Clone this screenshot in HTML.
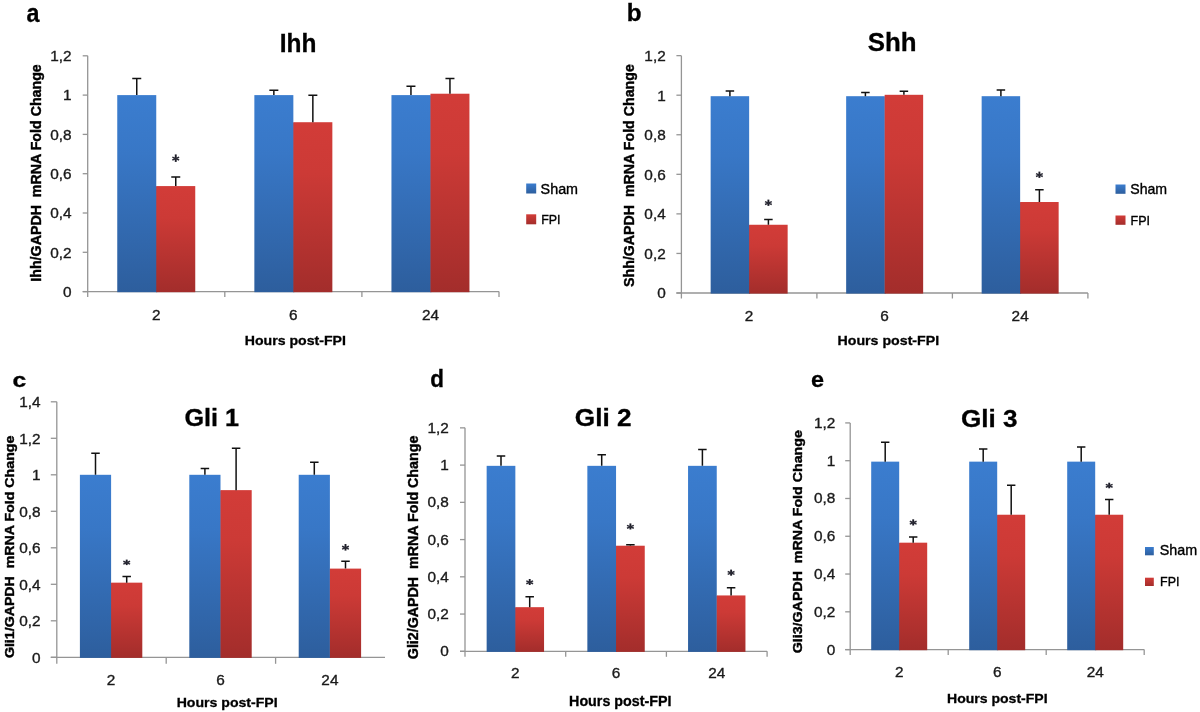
<!DOCTYPE html>
<html><head><meta charset="utf-8"><style>
html,body{margin:0;padding:0;background:#fff;}
svg{display:block;filter:blur(0.45px);}
text{font-family:"Liberation Sans",sans-serif;white-space:pre;}
</style></head><body>
<svg width="1200" height="712" viewBox="0 0 1200 712">
<defs>
<linearGradient id="gb" x1="0" y1="0" x2="0" y2="1"><stop offset="0" stop-color="#3b7dcf"/><stop offset="1" stop-color="#2d5e9d"/></linearGradient>
<linearGradient id="gr" x1="0" y1="0" x2="0" y2="1"><stop offset="0" stop-color="#d23c38"/><stop offset="1" stop-color="#a32d2b"/></linearGradient>
<linearGradient id="g0" gradientUnits="userSpaceOnUse" x1="0" y1="95.10" x2="0" y2="292.20"><stop offset="0" stop-color="#3b7dcf"/><stop offset="0.3" stop-color="#3877c6"/><stop offset="1" stop-color="#2d5e9d"/></linearGradient>
<linearGradient id="g1" gradientUnits="userSpaceOnUse" x1="0" y1="186.08" x2="0" y2="292.20"><stop offset="0" stop-color="#d23c38"/><stop offset="0.3" stop-color="#cc3a36"/><stop offset="1" stop-color="#a32d2b"/></linearGradient>
<linearGradient id="g2" gradientUnits="userSpaceOnUse" x1="0" y1="95.10" x2="0" y2="292.20"><stop offset="0" stop-color="#3b7dcf"/><stop offset="0.3" stop-color="#3877c6"/><stop offset="1" stop-color="#2d5e9d"/></linearGradient>
<linearGradient id="g3" gradientUnits="userSpaceOnUse" x1="0" y1="122.22" x2="0" y2="292.20"><stop offset="0" stop-color="#d23c38"/><stop offset="0.3" stop-color="#cc3a36"/><stop offset="1" stop-color="#a32d2b"/></linearGradient>
<linearGradient id="g4" gradientUnits="userSpaceOnUse" x1="0" y1="95.10" x2="0" y2="292.20"><stop offset="0" stop-color="#3b7dcf"/><stop offset="0.3" stop-color="#3877c6"/><stop offset="1" stop-color="#2d5e9d"/></linearGradient>
<linearGradient id="g5" gradientUnits="userSpaceOnUse" x1="0" y1="93.72" x2="0" y2="292.20"><stop offset="0" stop-color="#d23c38"/><stop offset="0.3" stop-color="#cc3a36"/><stop offset="1" stop-color="#a32d2b"/></linearGradient>
<linearGradient id="g6" gradientUnits="userSpaceOnUse" x1="0" y1="96.19" x2="0" y2="293.60"><stop offset="0" stop-color="#3b7dcf"/><stop offset="0.3" stop-color="#3877c6"/><stop offset="1" stop-color="#2d5e9d"/></linearGradient>
<linearGradient id="g7" gradientUnits="userSpaceOnUse" x1="0" y1="224.76" x2="0" y2="293.60"><stop offset="0" stop-color="#d23c38"/><stop offset="0.3" stop-color="#cc3a36"/><stop offset="1" stop-color="#a32d2b"/></linearGradient>
<linearGradient id="g8" gradientUnits="userSpaceOnUse" x1="0" y1="96.19" x2="0" y2="293.60"><stop offset="0" stop-color="#3b7dcf"/><stop offset="0.3" stop-color="#3877c6"/><stop offset="1" stop-color="#2d5e9d"/></linearGradient>
<linearGradient id="g9" gradientUnits="userSpaceOnUse" x1="0" y1="94.80" x2="0" y2="293.60"><stop offset="0" stop-color="#d23c38"/><stop offset="0.3" stop-color="#cc3a36"/><stop offset="1" stop-color="#a32d2b"/></linearGradient>
<linearGradient id="g10" gradientUnits="userSpaceOnUse" x1="0" y1="96.19" x2="0" y2="293.60"><stop offset="0" stop-color="#3b7dcf"/><stop offset="0.3" stop-color="#3877c6"/><stop offset="1" stop-color="#2d5e9d"/></linearGradient>
<linearGradient id="g11" gradientUnits="userSpaceOnUse" x1="0" y1="202.01" x2="0" y2="293.60"><stop offset="0" stop-color="#d23c38"/><stop offset="0.3" stop-color="#cc3a36"/><stop offset="1" stop-color="#a32d2b"/></linearGradient>
<linearGradient id="g12" gradientUnits="userSpaceOnUse" x1="0" y1="474.80" x2="0" y2="657.90"><stop offset="0" stop-color="#3b7dcf"/><stop offset="0.3" stop-color="#3877c6"/><stop offset="1" stop-color="#2d5e9d"/></linearGradient>
<linearGradient id="g13" gradientUnits="userSpaceOnUse" x1="0" y1="582.66" x2="0" y2="657.90"><stop offset="0" stop-color="#d23c38"/><stop offset="0.3" stop-color="#cc3a36"/><stop offset="1" stop-color="#a32d2b"/></linearGradient>
<linearGradient id="g14" gradientUnits="userSpaceOnUse" x1="0" y1="474.80" x2="0" y2="657.90"><stop offset="0" stop-color="#3b7dcf"/><stop offset="0.3" stop-color="#3877c6"/><stop offset="1" stop-color="#2d5e9d"/></linearGradient>
<linearGradient id="g15" gradientUnits="userSpaceOnUse" x1="0" y1="490.13" x2="0" y2="657.90"><stop offset="0" stop-color="#d23c38"/><stop offset="0.3" stop-color="#cc3a36"/><stop offset="1" stop-color="#a32d2b"/></linearGradient>
<linearGradient id="g16" gradientUnits="userSpaceOnUse" x1="0" y1="474.80" x2="0" y2="657.90"><stop offset="0" stop-color="#3b7dcf"/><stop offset="0.3" stop-color="#3877c6"/><stop offset="1" stop-color="#2d5e9d"/></linearGradient>
<linearGradient id="g17" gradientUnits="userSpaceOnUse" x1="0" y1="568.61" x2="0" y2="657.90"><stop offset="0" stop-color="#d23c38"/><stop offset="0.3" stop-color="#cc3a36"/><stop offset="1" stop-color="#a32d2b"/></linearGradient>
<linearGradient id="g18" gradientUnits="userSpaceOnUse" x1="0" y1="465.84" x2="0" y2="651.90"><stop offset="0" stop-color="#3b7dcf"/><stop offset="0.3" stop-color="#3877c6"/><stop offset="1" stop-color="#2d5e9d"/></linearGradient>
<linearGradient id="g19" gradientUnits="userSpaceOnUse" x1="0" y1="607.17" x2="0" y2="651.90"><stop offset="0" stop-color="#d23c38"/><stop offset="0.3" stop-color="#cc3a36"/><stop offset="1" stop-color="#a32d2b"/></linearGradient>
<linearGradient id="g20" gradientUnits="userSpaceOnUse" x1="0" y1="465.84" x2="0" y2="651.90"><stop offset="0" stop-color="#3b7dcf"/><stop offset="0.3" stop-color="#3877c6"/><stop offset="1" stop-color="#2d5e9d"/></linearGradient>
<linearGradient id="g21" gradientUnits="userSpaceOnUse" x1="0" y1="545.72" x2="0" y2="651.90"><stop offset="0" stop-color="#d23c38"/><stop offset="0.3" stop-color="#cc3a36"/><stop offset="1" stop-color="#a32d2b"/></linearGradient>
<linearGradient id="g22" gradientUnits="userSpaceOnUse" x1="0" y1="465.84" x2="0" y2="651.90"><stop offset="0" stop-color="#3b7dcf"/><stop offset="0.3" stop-color="#3877c6"/><stop offset="1" stop-color="#2d5e9d"/></linearGradient>
<linearGradient id="g23" gradientUnits="userSpaceOnUse" x1="0" y1="595.44" x2="0" y2="651.90"><stop offset="0" stop-color="#d23c38"/><stop offset="0.3" stop-color="#cc3a36"/><stop offset="1" stop-color="#a32d2b"/></linearGradient>
<linearGradient id="g24" gradientUnits="userSpaceOnUse" x1="0" y1="461.64" x2="0" y2="650.20"><stop offset="0" stop-color="#3b7dcf"/><stop offset="0.3" stop-color="#3877c6"/><stop offset="1" stop-color="#2d5e9d"/></linearGradient>
<linearGradient id="g25" gradientUnits="userSpaceOnUse" x1="0" y1="542.68" x2="0" y2="650.20"><stop offset="0" stop-color="#d23c38"/><stop offset="0.3" stop-color="#cc3a36"/><stop offset="1" stop-color="#a32d2b"/></linearGradient>
<linearGradient id="g26" gradientUnits="userSpaceOnUse" x1="0" y1="461.64" x2="0" y2="650.20"><stop offset="0" stop-color="#3b7dcf"/><stop offset="0.3" stop-color="#3877c6"/><stop offset="1" stop-color="#2d5e9d"/></linearGradient>
<linearGradient id="g27" gradientUnits="userSpaceOnUse" x1="0" y1="514.73" x2="0" y2="650.20"><stop offset="0" stop-color="#d23c38"/><stop offset="0.3" stop-color="#cc3a36"/><stop offset="1" stop-color="#a32d2b"/></linearGradient>
<linearGradient id="g28" gradientUnits="userSpaceOnUse" x1="0" y1="461.64" x2="0" y2="650.20"><stop offset="0" stop-color="#3b7dcf"/><stop offset="0.3" stop-color="#3877c6"/><stop offset="1" stop-color="#2d5e9d"/></linearGradient>
<linearGradient id="g29" gradientUnits="userSpaceOnUse" x1="0" y1="514.73" x2="0" y2="650.20"><stop offset="0" stop-color="#d23c38"/><stop offset="0.3" stop-color="#cc3a36"/><stop offset="1" stop-color="#a32d2b"/></linearGradient>
</defs>
<rect width="1200" height="712" fill="#fff"/>
<path d="M87.70 55.80V297.10M82.70 291.60H499.00" stroke="#959595" stroke-width="1.3" fill="none"/>
<path d="M82.70 291.60H87.70" stroke="#959595" stroke-width="1.3"/>
<path d="M82.70 252.30H87.70" stroke="#959595" stroke-width="1.3"/>
<path d="M82.70 213.00H87.70" stroke="#959595" stroke-width="1.3"/>
<path d="M82.70 173.70H87.70" stroke="#959595" stroke-width="1.3"/>
<path d="M82.70 134.40H87.70" stroke="#959595" stroke-width="1.3"/>
<path d="M82.70 95.10H87.70" stroke="#959595" stroke-width="1.3"/>
<path d="M82.70 55.80H87.70" stroke="#959595" stroke-width="1.3"/>
<path d="M224.80 291.60V297.10" stroke="#959595" stroke-width="1.3"/>
<path d="M361.90 291.60V297.10" stroke="#959595" stroke-width="1.3"/>
<path d="M499.00 291.60V297.10" stroke="#959595" stroke-width="1.3"/>
<rect x="117.25" y="95.10" width="39.00" height="197.10" fill="url(#g0)"/>
<rect x="155.95" y="186.48" width="1.3" height="105.72" fill="url(#g0)"/>
<rect x="156.25" y="186.08" width="39.00" height="106.12" fill="url(#g1)"/>
<path d="M136.75 95.10V78.40M132.25 78.40H141.25" stroke="#111" stroke-width="1.5" fill="none"/>
<path d="M175.75 186.08V177.00M171.25 177.00H180.25" stroke="#111" stroke-width="1.5" fill="none"/>
<path d="M175.75 154.40V161.90" stroke="#1d1d28" stroke-width="1.9"/>
<path d="M172.35 157.10L179.15 160.00M172.35 160.00L179.15 157.10" stroke="#2a2a35" stroke-width="1.45"/>
<rect x="254.35" y="95.10" width="39.00" height="197.10" fill="url(#g2)"/>
<rect x="293.05" y="122.62" width="1.3" height="169.58" fill="url(#g2)"/>
<rect x="293.35" y="122.22" width="39.00" height="169.98" fill="url(#g3)"/>
<path d="M273.85 95.10V90.20M269.35 90.20H278.35" stroke="#111" stroke-width="1.5" fill="none"/>
<path d="M312.85 122.22V95.30M308.35 95.30H317.35" stroke="#111" stroke-width="1.5" fill="none"/>
<rect x="391.45" y="95.10" width="39.00" height="197.10" fill="url(#g4)"/>
<rect x="430.15" y="95.50" width="1.3" height="196.70" fill="url(#g4)"/>
<rect x="430.45" y="93.72" width="39.00" height="198.48" fill="url(#g5)"/>
<path d="M410.95 95.10V86.30M406.45 86.30H415.45" stroke="#111" stroke-width="1.5" fill="none"/>
<path d="M449.95 93.72V78.40M445.45 78.40H454.45" stroke="#111" stroke-width="1.5" fill="none"/>
<text transform="translate(71.50,296.90) scale(1.06,1)" font-size="14.5" text-anchor="end" fill="#1a1a1a" stroke="#1a1a1a" stroke-width="0.35">0</text>
<text transform="translate(71.50,257.60) scale(1.06,1)" font-size="14.5" text-anchor="end" fill="#1a1a1a" stroke="#1a1a1a" stroke-width="0.35">0,2</text>
<text transform="translate(71.50,218.30) scale(1.06,1)" font-size="14.5" text-anchor="end" fill="#1a1a1a" stroke="#1a1a1a" stroke-width="0.35">0,4</text>
<text transform="translate(71.50,179.00) scale(1.06,1)" font-size="14.5" text-anchor="end" fill="#1a1a1a" stroke="#1a1a1a" stroke-width="0.35">0,6</text>
<text transform="translate(71.50,139.70) scale(1.06,1)" font-size="14.5" text-anchor="end" fill="#1a1a1a" stroke="#1a1a1a" stroke-width="0.35">0,8</text>
<text transform="translate(71.50,100.40) scale(1.06,1)" font-size="14.5" text-anchor="end" fill="#1a1a1a" stroke="#1a1a1a" stroke-width="0.35">1</text>
<text transform="translate(71.50,61.10) scale(1.06,1)" font-size="14.5" text-anchor="end" fill="#1a1a1a" stroke="#1a1a1a" stroke-width="0.35">1,2</text>
<text transform="translate(156.25,320.00) scale(1.06,1)" font-size="14.5" text-anchor="middle" fill="#1a1a1a" stroke="#1a1a1a" stroke-width="0.35">2</text>
<text transform="translate(293.35,320.00) scale(1.06,1)" font-size="14.5" text-anchor="middle" fill="#1a1a1a" stroke="#1a1a1a" stroke-width="0.35">6</text>
<text transform="translate(430.45,320.00) scale(1.06,1)" font-size="14.5" text-anchor="middle" fill="#1a1a1a" stroke="#1a1a1a" stroke-width="0.35">24</text>
<text transform="translate(26.60,21.50) scale(0.8754,1)" font-size="26.60" font-weight="bold" fill="#000" stroke="#000" stroke-width="0.3">a</text>
<text transform="translate(279.80,51.90) scale(0.9435,1)" font-size="25.93" font-weight="bold" fill="#000" stroke="#000" stroke-width="0.3">Ihh</text>
<text transform="translate(244.80,344.60) scale(1.1276,1)" font-size="12.51" font-weight="bold" fill="#000" stroke="#000" stroke-width="0.3">Hours post-FPI</text>
<text transform="translate(540.60,193.50) scale(1.0104,1)" font-size="14.21" font-weight="normal" fill="#000" stroke="#000" stroke-width="0.35">Sham</text>
<text transform="translate(541.20,223.80) scale(0.9588,1)" font-size="12.95" font-weight="normal" fill="#000" stroke="#000" stroke-width="0.35">FPI</text>
<text transform="translate(40.60,281.70) rotate(-90) scale(1.0318,1)" font-size="13.79" font-weight="bold" fill="#000" stroke="#000" stroke-width="0.4">Ihh/GAPDH  mRNA Fold Change</text>
<rect x="526.20" y="183.50" width="10" height="10" fill="url(#gb)"/>
<rect x="526.20" y="214.30" width="10" height="10" fill="url(#gr)"/>
<path d="M681.40 55.64V298.50M676.40 293.00H1087.90" stroke="#959595" stroke-width="1.3" fill="none"/>
<path d="M676.40 293.00H681.40" stroke="#959595" stroke-width="1.3"/>
<path d="M676.40 253.44H681.40" stroke="#959595" stroke-width="1.3"/>
<path d="M676.40 213.88H681.40" stroke="#959595" stroke-width="1.3"/>
<path d="M676.40 174.32H681.40" stroke="#959595" stroke-width="1.3"/>
<path d="M676.40 134.76H681.40" stroke="#959595" stroke-width="1.3"/>
<path d="M676.40 95.20H681.40" stroke="#959595" stroke-width="1.3"/>
<path d="M676.40 55.64H681.40" stroke="#959595" stroke-width="1.3"/>
<path d="M816.90 293.00V298.50" stroke="#959595" stroke-width="1.3"/>
<path d="M952.40 293.00V298.50" stroke="#959595" stroke-width="1.3"/>
<path d="M1087.90 293.00V298.50" stroke="#959595" stroke-width="1.3"/>
<rect x="710.65" y="96.19" width="38.50" height="197.41" fill="url(#g6)"/>
<rect x="748.85" y="225.16" width="1.3" height="68.44" fill="url(#g6)"/>
<rect x="749.15" y="224.76" width="38.50" height="68.84" fill="url(#g7)"/>
<path d="M729.90 96.19V91.00M725.65 91.00H734.15" stroke="#111" stroke-width="1.5" fill="none"/>
<path d="M768.40 224.76V219.60M764.15 219.60H772.65" stroke="#111" stroke-width="1.5" fill="none"/>
<path d="M768.40 199.60V205.90" stroke="#1d1d28" stroke-width="1.9"/>
<path d="M765.00 201.65L771.80 204.54M765.00 204.54L771.80 201.65" stroke="#2a2a35" stroke-width="1.45"/>
<rect x="846.15" y="96.19" width="38.50" height="197.41" fill="url(#g8)"/>
<rect x="884.35" y="96.59" width="1.3" height="197.01" fill="url(#g8)"/>
<rect x="884.65" y="94.80" width="38.50" height="198.80" fill="url(#g9)"/>
<path d="M865.40 96.19V92.40M861.15 92.40H869.65" stroke="#111" stroke-width="1.5" fill="none"/>
<path d="M903.90 94.80V91.20M899.65 91.20H908.15" stroke="#111" stroke-width="1.5" fill="none"/>
<rect x="981.65" y="96.19" width="38.50" height="197.41" fill="url(#g10)"/>
<rect x="1019.85" y="202.41" width="1.3" height="91.19" fill="url(#g10)"/>
<rect x="1020.15" y="202.01" width="38.50" height="91.59" fill="url(#g11)"/>
<path d="M1000.90 96.19V90.00M996.65 90.00H1005.15" stroke="#111" stroke-width="1.5" fill="none"/>
<path d="M1039.40 202.01V189.80M1035.15 189.80H1043.65" stroke="#111" stroke-width="1.5" fill="none"/>
<path d="M1039.40 171.60V177.90" stroke="#1d1d28" stroke-width="1.9"/>
<path d="M1036.00 173.65L1042.80 176.54M1036.00 176.54L1042.80 173.65" stroke="#2a2a35" stroke-width="1.45"/>
<text transform="translate(665.70,298.30) scale(1.06,1)" font-size="14.5" text-anchor="end" fill="#1a1a1a" stroke="#1a1a1a" stroke-width="0.35">0</text>
<text transform="translate(665.70,258.74) scale(1.06,1)" font-size="14.5" text-anchor="end" fill="#1a1a1a" stroke="#1a1a1a" stroke-width="0.35">0,2</text>
<text transform="translate(665.70,219.18) scale(1.06,1)" font-size="14.5" text-anchor="end" fill="#1a1a1a" stroke="#1a1a1a" stroke-width="0.35">0,4</text>
<text transform="translate(665.70,179.62) scale(1.06,1)" font-size="14.5" text-anchor="end" fill="#1a1a1a" stroke="#1a1a1a" stroke-width="0.35">0,6</text>
<text transform="translate(665.70,140.06) scale(1.06,1)" font-size="14.5" text-anchor="end" fill="#1a1a1a" stroke="#1a1a1a" stroke-width="0.35">0,8</text>
<text transform="translate(665.70,100.50) scale(1.06,1)" font-size="14.5" text-anchor="end" fill="#1a1a1a" stroke="#1a1a1a" stroke-width="0.35">1</text>
<text transform="translate(665.70,60.94) scale(1.06,1)" font-size="14.5" text-anchor="end" fill="#1a1a1a" stroke="#1a1a1a" stroke-width="0.35">1,2</text>
<text transform="translate(749.15,320.50) scale(1.06,1)" font-size="14.5" text-anchor="middle" fill="#1a1a1a" stroke="#1a1a1a" stroke-width="0.35">2</text>
<text transform="translate(884.65,320.50) scale(1.06,1)" font-size="14.5" text-anchor="middle" fill="#1a1a1a" stroke="#1a1a1a" stroke-width="0.35">6</text>
<text transform="translate(1020.15,320.50) scale(1.06,1)" font-size="14.5" text-anchor="middle" fill="#1a1a1a" stroke="#1a1a1a" stroke-width="0.35">24</text>
<text transform="translate(626.70,21.30) scale(1.0168,1)" font-size="23.86" font-weight="bold" fill="#000" stroke="#000" stroke-width="0.3">b</text>
<text transform="translate(867.70,50.80) scale(0.9918,1)" font-size="26.07" font-weight="bold" fill="#000" stroke="#000" stroke-width="0.3">Shh</text>
<text transform="translate(837.50,344.70) scale(1.0614,1)" font-size="13.38" font-weight="bold" fill="#000" stroke="#000" stroke-width="0.3">Hours post-FPI</text>
<text transform="translate(1130.20,194.20) scale(0.9873,1)" font-size="14.34" font-weight="normal" fill="#000" stroke="#000" stroke-width="0.35">Sham</text>
<text transform="translate(1130.50,224.90) scale(0.9910,1)" font-size="12.65" font-weight="normal" fill="#000" stroke="#000" stroke-width="0.35">FPI</text>
<text transform="translate(633.90,287.00) rotate(-90) scale(0.9282,1)" font-size="15.31" font-weight="bold" fill="#000" stroke="#000" stroke-width="0.4">Shh/GAPDH  mRNA Fold Change</text>
<rect x="1115.50" y="184.50" width="10" height="9.3" fill="url(#gb)"/>
<rect x="1115.50" y="215.50" width="10" height="9.3" fill="url(#gr)"/>
<path d="M56.80 401.80V663.80M50.80 657.30H385.00" stroke="#959595" stroke-width="1.3" fill="none"/>
<path d="M50.80 657.30H56.80" stroke="#959595" stroke-width="1.3"/>
<path d="M50.80 620.80H56.80" stroke="#959595" stroke-width="1.3"/>
<path d="M50.80 584.30H56.80" stroke="#959595" stroke-width="1.3"/>
<path d="M50.80 547.80H56.80" stroke="#959595" stroke-width="1.3"/>
<path d="M50.80 511.30H56.80" stroke="#959595" stroke-width="1.3"/>
<path d="M50.80 474.80H56.80" stroke="#959595" stroke-width="1.3"/>
<path d="M50.80 438.30H56.80" stroke="#959595" stroke-width="1.3"/>
<path d="M50.80 401.80H56.80" stroke="#959595" stroke-width="1.3"/>
<path d="M166.20 657.30V663.80" stroke="#959595" stroke-width="1.3"/>
<path d="M275.60 657.30V663.80" stroke="#959595" stroke-width="1.3"/>
<rect x="79.90" y="474.80" width="31.20" height="183.10" fill="url(#g12)"/>
<rect x="110.80" y="583.06" width="1.3" height="74.84" fill="url(#g12)"/>
<rect x="111.10" y="582.66" width="31.20" height="75.24" fill="url(#g13)"/>
<path d="M95.50 474.80V453.20M91.25 453.20H99.75" stroke="#111" stroke-width="1.5" fill="none"/>
<path d="M126.70 582.66V576.50M122.45 576.50H130.95" stroke="#111" stroke-width="1.5" fill="none"/>
<path d="M126.70 559.60V565.10" stroke="#1d1d28" stroke-width="1.9"/>
<path d="M123.30 561.21L130.10 564.11M123.30 564.11L130.10 561.21" stroke="#2a2a35" stroke-width="1.45"/>
<rect x="189.30" y="474.80" width="31.20" height="183.10" fill="url(#g14)"/>
<rect x="220.20" y="490.53" width="1.3" height="167.37" fill="url(#g14)"/>
<rect x="220.50" y="490.13" width="31.20" height="167.77" fill="url(#g15)"/>
<path d="M204.90 474.80V468.60M200.65 468.60H209.15" stroke="#111" stroke-width="1.5" fill="none"/>
<path d="M236.10 490.13V448.30M231.85 448.30H240.35" stroke="#111" stroke-width="1.5" fill="none"/>
<rect x="298.70" y="474.80" width="31.20" height="183.10" fill="url(#g16)"/>
<rect x="329.60" y="569.00" width="1.3" height="88.89" fill="url(#g16)"/>
<rect x="329.90" y="568.61" width="31.20" height="89.29" fill="url(#g17)"/>
<path d="M314.30 474.80V462.30M310.05 462.30H318.55" stroke="#111" stroke-width="1.5" fill="none"/>
<path d="M345.50 568.61V561.30M341.25 561.30H349.75" stroke="#111" stroke-width="1.5" fill="none"/>
<path d="M345.50 544.00V550.60" stroke="#1d1d28" stroke-width="1.9"/>
<path d="M342.10 546.21L348.90 549.11M342.10 549.11L348.90 546.21" stroke="#2a2a35" stroke-width="1.45"/>
<text transform="translate(40.60,662.90) scale(1.06,1)" font-size="14.5" text-anchor="end" fill="#1a1a1a" stroke="#1a1a1a" stroke-width="0.35">0</text>
<text transform="translate(40.60,626.40) scale(1.06,1)" font-size="14.5" text-anchor="end" fill="#1a1a1a" stroke="#1a1a1a" stroke-width="0.35">0,2</text>
<text transform="translate(40.60,589.90) scale(1.06,1)" font-size="14.5" text-anchor="end" fill="#1a1a1a" stroke="#1a1a1a" stroke-width="0.35">0,4</text>
<text transform="translate(40.60,553.40) scale(1.06,1)" font-size="14.5" text-anchor="end" fill="#1a1a1a" stroke="#1a1a1a" stroke-width="0.35">0,6</text>
<text transform="translate(40.60,516.90) scale(1.06,1)" font-size="14.5" text-anchor="end" fill="#1a1a1a" stroke="#1a1a1a" stroke-width="0.35">0,8</text>
<text transform="translate(40.60,480.40) scale(1.06,1)" font-size="14.5" text-anchor="end" fill="#1a1a1a" stroke="#1a1a1a" stroke-width="0.35">1</text>
<text transform="translate(40.60,443.90) scale(1.06,1)" font-size="14.5" text-anchor="end" fill="#1a1a1a" stroke="#1a1a1a" stroke-width="0.35">1,2</text>
<text transform="translate(40.60,407.40) scale(1.06,1)" font-size="14.5" text-anchor="end" fill="#1a1a1a" stroke="#1a1a1a" stroke-width="0.35">1,4</text>
<text transform="translate(111.10,685.20) scale(1.06,1)" font-size="14.5" text-anchor="middle" fill="#1a1a1a" stroke="#1a1a1a" stroke-width="0.35">2</text>
<text transform="translate(220.50,685.20) scale(1.06,1)" font-size="14.5" text-anchor="middle" fill="#1a1a1a" stroke="#1a1a1a" stroke-width="0.35">6</text>
<text transform="translate(329.90,685.20) scale(1.06,1)" font-size="14.5" text-anchor="middle" fill="#1a1a1a" stroke="#1a1a1a" stroke-width="0.35">24</text>
<text transform="translate(12.50,386.90) scale(1.1953,1)" font-size="20.65" font-weight="bold" fill="#000" stroke="#000" stroke-width="0.3">c</text>
<text transform="translate(184.50,426.00) scale(1.0436,1)" font-size="24.14" font-weight="bold" fill="#000" stroke="#000" stroke-width="0.3">Gli 1</text>
<text transform="translate(176.70,706.80) scale(1.0316,1)" font-size="13.67" font-weight="bold" fill="#000" stroke="#000" stroke-width="0.3">Hours post-FPI</text>
<text transform="translate(13.70,658.10) rotate(-90) scale(1.1067,1)" font-size="12.83" font-weight="bold" fill="#000" stroke="#000" stroke-width="0.4">Gli1/GAPDH  mRNA Fold Change</text>
<path d="M465.00 427.86V656.80M460.00 651.30H767.10" stroke="#959595" stroke-width="1.3" fill="none"/>
<path d="M460.00 651.30H465.00" stroke="#959595" stroke-width="1.3"/>
<path d="M460.00 614.06H465.00" stroke="#959595" stroke-width="1.3"/>
<path d="M460.00 576.82H465.00" stroke="#959595" stroke-width="1.3"/>
<path d="M460.00 539.58H465.00" stroke="#959595" stroke-width="1.3"/>
<path d="M460.00 502.34H465.00" stroke="#959595" stroke-width="1.3"/>
<path d="M460.00 465.10H465.00" stroke="#959595" stroke-width="1.3"/>
<path d="M460.00 427.86H465.00" stroke="#959595" stroke-width="1.3"/>
<path d="M565.70 651.30V656.80" stroke="#959595" stroke-width="1.3"/>
<path d="M666.40 651.30V656.80" stroke="#959595" stroke-width="1.3"/>
<path d="M767.10 651.30V656.80" stroke="#959595" stroke-width="1.3"/>
<rect x="486.65" y="465.84" width="28.70" height="186.06" fill="url(#g18)"/>
<rect x="515.05" y="607.57" width="1.3" height="44.33" fill="url(#g18)"/>
<rect x="515.35" y="607.17" width="28.70" height="44.73" fill="url(#g19)"/>
<path d="M501.00 465.84V456.00M496.75 456.00H505.25" stroke="#111" stroke-width="1.5" fill="none"/>
<path d="M529.70 607.17V596.70M525.45 596.70H533.95" stroke="#111" stroke-width="1.5" fill="none"/>
<path d="M529.70 579.00V585.00" stroke="#1d1d28" stroke-width="1.9"/>
<path d="M526.30 580.88L533.10 583.78M526.30 583.78L533.10 580.88" stroke="#2a2a35" stroke-width="1.45"/>
<rect x="587.35" y="465.84" width="28.70" height="186.06" fill="url(#g20)"/>
<rect x="615.75" y="546.12" width="1.3" height="105.78" fill="url(#g20)"/>
<rect x="616.05" y="545.72" width="28.70" height="106.18" fill="url(#g21)"/>
<path d="M601.70 465.84V454.70M597.45 454.70H605.95" stroke="#111" stroke-width="1.5" fill="none"/>
<path d="M630.40 545.72V544.70M626.15 544.70H634.65" stroke="#111" stroke-width="1.5" fill="none"/>
<path d="M630.40 523.40V529.50" stroke="#1d1d28" stroke-width="1.9"/>
<path d="M627.00 525.34L633.80 528.24M627.00 528.24L633.80 525.34" stroke="#2a2a35" stroke-width="1.45"/>
<rect x="688.05" y="465.84" width="28.70" height="186.06" fill="url(#g22)"/>
<rect x="716.45" y="595.84" width="1.3" height="56.06" fill="url(#g22)"/>
<rect x="716.75" y="595.44" width="28.70" height="56.46" fill="url(#g23)"/>
<path d="M702.40 465.84V449.60M698.15 449.60H706.65" stroke="#111" stroke-width="1.5" fill="none"/>
<path d="M731.10 595.44V587.80M726.85 587.80H735.35" stroke="#111" stroke-width="1.5" fill="none"/>
<path d="M731.10 569.60V575.70" stroke="#1d1d28" stroke-width="1.9"/>
<path d="M727.70 571.53L734.50 574.44M727.70 574.44L734.50 571.53" stroke="#2a2a35" stroke-width="1.45"/>
<text transform="translate(448.80,656.30) scale(1.06,1)" font-size="14.5" text-anchor="end" fill="#1a1a1a" stroke="#1a1a1a" stroke-width="0.35">0</text>
<text transform="translate(448.80,619.06) scale(1.06,1)" font-size="14.5" text-anchor="end" fill="#1a1a1a" stroke="#1a1a1a" stroke-width="0.35">0,2</text>
<text transform="translate(448.80,581.82) scale(1.06,1)" font-size="14.5" text-anchor="end" fill="#1a1a1a" stroke="#1a1a1a" stroke-width="0.35">0,4</text>
<text transform="translate(448.80,544.58) scale(1.06,1)" font-size="14.5" text-anchor="end" fill="#1a1a1a" stroke="#1a1a1a" stroke-width="0.35">0,6</text>
<text transform="translate(448.80,507.34) scale(1.06,1)" font-size="14.5" text-anchor="end" fill="#1a1a1a" stroke="#1a1a1a" stroke-width="0.35">0,8</text>
<text transform="translate(448.80,470.10) scale(1.06,1)" font-size="14.5" text-anchor="end" fill="#1a1a1a" stroke="#1a1a1a" stroke-width="0.35">1</text>
<text transform="translate(448.80,432.86) scale(1.06,1)" font-size="14.5" text-anchor="end" fill="#1a1a1a" stroke="#1a1a1a" stroke-width="0.35">1,2</text>
<text transform="translate(515.35,678.30) scale(1.06,1)" font-size="14.5" text-anchor="middle" fill="#1a1a1a" stroke="#1a1a1a" stroke-width="0.35">2</text>
<text transform="translate(616.05,678.30) scale(1.06,1)" font-size="14.5" text-anchor="middle" fill="#1a1a1a" stroke="#1a1a1a" stroke-width="0.35">6</text>
<text transform="translate(716.75,678.30) scale(1.06,1)" font-size="14.5" text-anchor="middle" fill="#1a1a1a" stroke="#1a1a1a" stroke-width="0.35">24</text>
<text transform="translate(430.20,386.80) scale(0.9412,1)" font-size="23.86" font-weight="bold" fill="#000" stroke="#000" stroke-width="0.3">d</text>
<text transform="translate(574.80,425.80) scale(1.0919,1)" font-size="24.00" font-weight="bold" fill="#000" stroke="#000" stroke-width="0.3">Gli 2</text>
<text transform="translate(569.10,705.60) scale(1.0231,1)" font-size="13.96" font-weight="bold" fill="#000" stroke="#000" stroke-width="0.3">Hours post-FPI</text>
<text transform="translate(417.90,659.20) rotate(-90) scale(0.9850,1)" font-size="14.48" font-weight="bold" fill="#000" stroke="#000" stroke-width="0.4">Gli2/GAPDH  mRNA Fold Change</text>
<path d="M850.20 422.92V655.10M845.20 649.60H1144.20" stroke="#959595" stroke-width="1.3" fill="none"/>
<path d="M845.20 649.60H850.20" stroke="#959595" stroke-width="1.3"/>
<path d="M845.20 611.82H850.20" stroke="#959595" stroke-width="1.3"/>
<path d="M845.20 574.04H850.20" stroke="#959595" stroke-width="1.3"/>
<path d="M845.20 536.26H850.20" stroke="#959595" stroke-width="1.3"/>
<path d="M845.20 498.48H850.20" stroke="#959595" stroke-width="1.3"/>
<path d="M845.20 460.70H850.20" stroke="#959595" stroke-width="1.3"/>
<path d="M845.20 422.92H850.20" stroke="#959595" stroke-width="1.3"/>
<path d="M948.20 649.60V655.10" stroke="#959595" stroke-width="1.3"/>
<path d="M1046.20 649.60V655.10" stroke="#959595" stroke-width="1.3"/>
<path d="M1144.20 649.60V655.10" stroke="#959595" stroke-width="1.3"/>
<rect x="871.20" y="461.64" width="28.00" height="188.56" fill="url(#g24)"/>
<rect x="898.90" y="543.08" width="1.3" height="107.12" fill="url(#g24)"/>
<rect x="899.20" y="542.68" width="28.00" height="107.52" fill="url(#g25)"/>
<path d="M885.20 461.64V442.20M881.00 442.20H889.40" stroke="#111" stroke-width="1.5" fill="none"/>
<path d="M913.20 542.68V537.10M909.00 537.10H917.40" stroke="#111" stroke-width="1.5" fill="none"/>
<path d="M913.20 519.30V525.50" stroke="#1d1d28" stroke-width="1.9"/>
<path d="M909.80 521.29L916.60 524.19M909.80 524.19L916.60 521.29" stroke="#2a2a35" stroke-width="1.45"/>
<rect x="969.20" y="461.64" width="28.00" height="188.56" fill="url(#g26)"/>
<rect x="996.90" y="515.13" width="1.3" height="135.07" fill="url(#g26)"/>
<rect x="997.20" y="514.73" width="28.00" height="135.47" fill="url(#g27)"/>
<path d="M983.20 461.64V449.10M979.00 449.10H987.40" stroke="#111" stroke-width="1.5" fill="none"/>
<path d="M1011.20 514.73V485.30M1007.00 485.30H1015.40" stroke="#111" stroke-width="1.5" fill="none"/>
<rect x="1067.20" y="461.64" width="28.00" height="188.56" fill="url(#g28)"/>
<rect x="1094.90" y="515.13" width="1.3" height="135.07" fill="url(#g28)"/>
<rect x="1095.20" y="514.73" width="28.00" height="135.47" fill="url(#g29)"/>
<path d="M1081.20 461.64V447.00M1077.00 447.00H1085.40" stroke="#111" stroke-width="1.5" fill="none"/>
<path d="M1109.20 514.73V499.50M1105.00 499.50H1113.40" stroke="#111" stroke-width="1.5" fill="none"/>
<path d="M1109.20 482.70V488.30" stroke="#1d1d28" stroke-width="1.9"/>
<path d="M1105.80 484.36L1112.60 487.26M1105.80 487.26L1112.60 484.36" stroke="#2a2a35" stroke-width="1.45"/>
<text transform="translate(835.40,654.60) scale(1.06,1)" font-size="14.5" text-anchor="end" fill="#1a1a1a" stroke="#1a1a1a" stroke-width="0.35">0</text>
<text transform="translate(835.40,616.82) scale(1.06,1)" font-size="14.5" text-anchor="end" fill="#1a1a1a" stroke="#1a1a1a" stroke-width="0.35">0,2</text>
<text transform="translate(835.40,579.04) scale(1.06,1)" font-size="14.5" text-anchor="end" fill="#1a1a1a" stroke="#1a1a1a" stroke-width="0.35">0,4</text>
<text transform="translate(835.40,541.26) scale(1.06,1)" font-size="14.5" text-anchor="end" fill="#1a1a1a" stroke="#1a1a1a" stroke-width="0.35">0,6</text>
<text transform="translate(835.40,503.48) scale(1.06,1)" font-size="14.5" text-anchor="end" fill="#1a1a1a" stroke="#1a1a1a" stroke-width="0.35">0,8</text>
<text transform="translate(835.40,465.70) scale(1.06,1)" font-size="14.5" text-anchor="end" fill="#1a1a1a" stroke="#1a1a1a" stroke-width="0.35">1</text>
<text transform="translate(835.40,427.92) scale(1.06,1)" font-size="14.5" text-anchor="end" fill="#1a1a1a" stroke="#1a1a1a" stroke-width="0.35">1,2</text>
<text transform="translate(899.20,676.80) scale(1.06,1)" font-size="14.5" text-anchor="middle" fill="#1a1a1a" stroke="#1a1a1a" stroke-width="0.35">2</text>
<text transform="translate(997.20,676.80) scale(1.06,1)" font-size="14.5" text-anchor="middle" fill="#1a1a1a" stroke="#1a1a1a" stroke-width="0.35">6</text>
<text transform="translate(1095.20,676.80) scale(1.06,1)" font-size="14.5" text-anchor="middle" fill="#1a1a1a" stroke="#1a1a1a" stroke-width="0.35">24</text>
<text transform="translate(810.90,386.80) scale(1.0236,1)" font-size="22.88" font-weight="bold" fill="#000" stroke="#000" stroke-width="0.3">e</text>
<text transform="translate(961.00,426.60) scale(1.0636,1)" font-size="24.55" font-weight="bold" fill="#000" stroke="#000" stroke-width="0.3">Gli 3</text>
<text transform="translate(947.10,702.80) scale(1.0376,1)" font-size="13.53" font-weight="bold" fill="#000" stroke="#000" stroke-width="0.3">Hours post-FPI</text>
<text transform="translate(1159.70,555.20) scale(1.0006,1)" font-size="14.34" font-weight="normal" fill="#000" stroke="#000" stroke-width="0.35">Sham</text>
<text transform="translate(1160.10,585.70) scale(0.9859,1)" font-size="12.65" font-weight="normal" fill="#000" stroke="#000" stroke-width="0.35">FPI</text>
<text transform="translate(802.30,653.30) rotate(-90) scale(1.0429,1)" font-size="13.66" font-weight="bold" fill="#000" stroke="#000" stroke-width="0.4">Gli3/GAPDH  mRNA Fold Change</text>
<rect x="1145.00" y="547.00" width="8.8" height="8.3" fill="url(#gb)"/>
<rect x="1145.00" y="577.70" width="8.8" height="8.3" fill="url(#gr)"/>
</svg>
</body></html>
